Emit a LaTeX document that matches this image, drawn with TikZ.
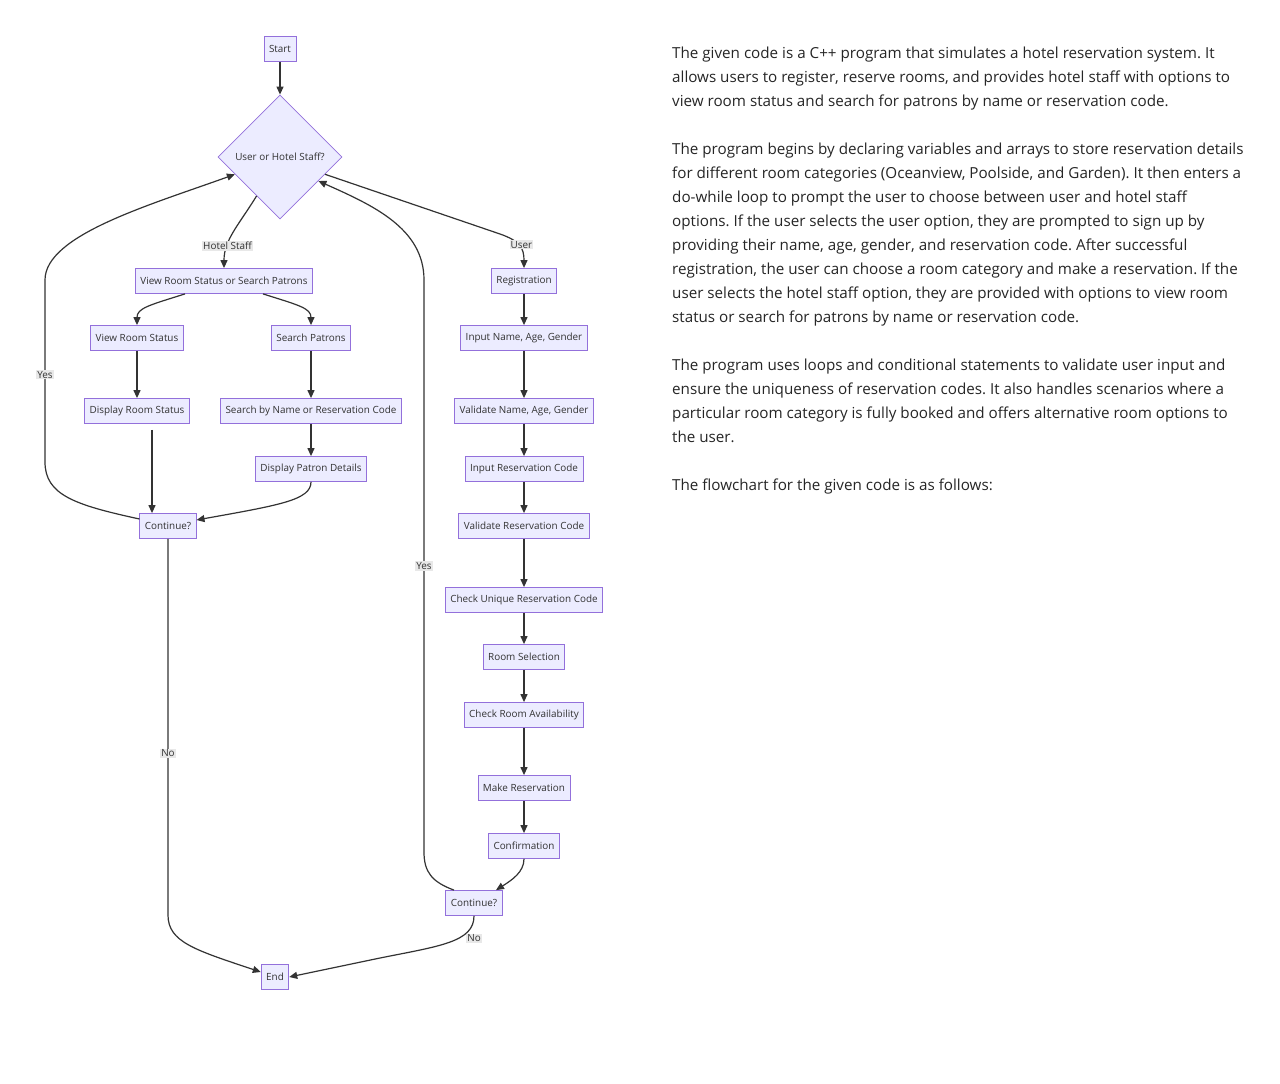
\documentclass[tikz,border=0pt]{standalone}
\usepackage{fontspec}
\setmainfont{Open Sans}
\frenchspacing
\usetikzlibrary{arrows.meta,positioning,shapes.geometric}
\definecolor{boxfill}{HTML}{ECECFF}
\definecolor{boxline}{HTML}{9370DB}
\definecolor{ink}{HTML}{333333}
\definecolor{labelfill}{HTML}{E8E8E8}
\tikzset {
	stepbox/.style={rectangle, draw=boxline, fill=boxfill, text=ink, line width=0.8pt,
					font=\fontsize{9.9}{12}\selectfont, minimum height=25pt, inner xsep=5pt},
	choice/.style={diamond, aspect=1, draw=boxline, fill=boxfill, text=ink, line width=0.8pt,
					font=\fontsize{9.9}{12}\selectfont, minimum width=124pt, minimum height=124pt, inner sep=0pt},
	link/.style={draw=ink, line width=1.2pt, -{Triangle[length=8pt, width=7pt]}},
	edgelabel/.style={fill=labelfill, text=ink, font=\fontsize{9.9}{12}\selectfont, inner sep=1pt},
	prose/.style={anchor=base west, inner sep=0pt, text=black!85, font=\fontsize{15.2}{18}\selectfont}
}
\begin{document}
\begin{tikzpicture}[x=1pt, y=-1pt]
	\useasboundingbox[fill=white] (0,0) rectangle (1280,1084);
	% left side: the flowchart
	\node [stepbox] (start) at (280,49) {Start};
	\node [choice] (choice) at (280,157) {User or Hotel Staff?};
	\node [stepbox] (staff) at (224,281) {View Room Status or Search Patrons};
	\node [stepbox] (vrs) at (137,338) {View Room Status};
	\node [stepbox] (sp) at (311,338) {Search Patrons};
	\node [stepbox] (drs) at (137,411) {Display Room Status};
	\node [stepbox] (sbn) at (311,411) {Search by Name or Reservation Code};
	\node [stepbox] (dpd) at (311,469) {Display Patron Details};
	\node [stepbox] (cont1) at (168,526) {Continue?};
	\node [stepbox] (reg) at (524,281) {Registration};
	\node [stepbox] (inname) at (524,338) {Input Name, Age, Gender};
	\node [stepbox] (valname) at (524,411) {Validate Name, Age, Gender};
	\node [stepbox] (incode) at (524,469) {Input Reservation Code};
	\node [stepbox] (valcode) at (524,526) {Validate Reservation Code};
	\node [stepbox] (unique) at (524,600) {Check Unique Reservation Code};
	\node [stepbox] (room) at (524,657) {Room Selection};
	\node [stepbox] (avail) at (524,715) {Check Room Availability};
	\node [stepbox] (make) at (524,788) {Make Reservation};
	\node [stepbox] (conf) at (524,846) {Confirmation};
	\node [stepbox] (cont2) at (474,903) {Continue?};
	\node [stepbox] (end) at (275,977) {End};

	\draw [link] (start) -- (choice);
	\draw [link] (choice.239) .. controls (238,226) and (224,240) .. (staff.north)
		node [edgelabel, pos=0.7] {Hotel Staff};
	\draw [link] (choice.-21) -- (500,234) .. controls (520,241) and (524,248) .. (reg.north)
		node [edgelabel, pos=0.45, xshift=3pt] {User};
	\draw [link] ([xshift=-39pt]staff.south) .. controls (150,305) and (137,308) .. (vrs.north);
	\draw [link] ([xshift=39pt]staff.south) .. controls (298,305) and (311,308) .. (sp.north);
	\draw [link] (vrs) -- (drs);
	\draw [link] (sp) -- (sbn);
	\draw [link] (sbn) -- (dpd);
	\draw [link] ([xshift=15pt, yshift=-6pt]drs.south) -- ([xshift=-16pt]cont1.north);
	\draw [link] (dpd.south) .. controls (311,500) and (280,505) .. ([yshift=6pt]cont1.east);
	\draw [link] ([yshift=7pt]cont1.west) .. controls (75,505) and (45,495) .. (45,462) -- (45,280)
		node [edgelabel, pos=0.48] {Yes}
		.. controls (45,235) and (150,205) .. (choice.201);
	\draw [link] (cont1.south) -- (168,915) node [edgelabel, pos=0.57] {No}
		.. controls (168,942) and (195,950) .. ([yshift=5pt]end.west);
	\foreach \a/\b in {reg/inname, inname/valname, valname/incode, incode/valcode,
					valcode/unique, unique/room, room/avail, avail/make, make/conf}
		\draw [link] (\a) -- (\b);
	\draw [link] (conf.south) .. controls (524,872) and (512,880) .. ([xshift=22pt]cont2.north);
	\draw [link] ([xshift=-20pt]cont2.north) .. controls (432,882) and (424,872) .. (424,852) -- (424,280)
		node [edgelabel, pos=0.5] {Yes}
		.. controls (424,228) and (372,205) .. (choice.-32);
	\draw [link] (cont2.south) .. controls (474,942) and (440,946) .. (380,958)
		node [edgelabel, pos=0.3, xshift=9pt, yshift=-4pt] {No}
		-- (end.east);

	% right side: the text
	\foreach \txt [count=\i] in {
		{The given code is a C++ program that simulates a hotel reservation system. It},
		{allows users to register, reserve rooms, and provides hotel staff with options to},
		{view room status and search for patrons by name or reservation code.},
		{},
		{The program begins by declaring variables and arrays to store reservation details},
		{for different room categories (Oceanview, Poolside, and Garden). It then enters a},
		{do-while loop to prompt the user to choose between user and hotel staff},
		{options. If the user selects the user option, they are prompted to sign up by},
		{providing their name, age, gender, and reservation code. After successful},
		{registration, the user can choose a room category and make a reservation. If the},
		{user selects the hotel staff option, they are provided with options to view room},
		{status or search for patrons by name or reservation code.},
		{},
		{The program uses loops and conditional statements to validate user input and},
		{ensure the uniqueness of reservation codes. It also handles scenarios where a},
		{particular room category is fully booked and offers alternative room options to},
		{the user.},
		{},
		{The flowchart for the given code is as follows:}}
		\node [prose] (line\i) at (672,{58+24*(\i-1)}) {\txt};
\end{tikzpicture}
\end{document}
